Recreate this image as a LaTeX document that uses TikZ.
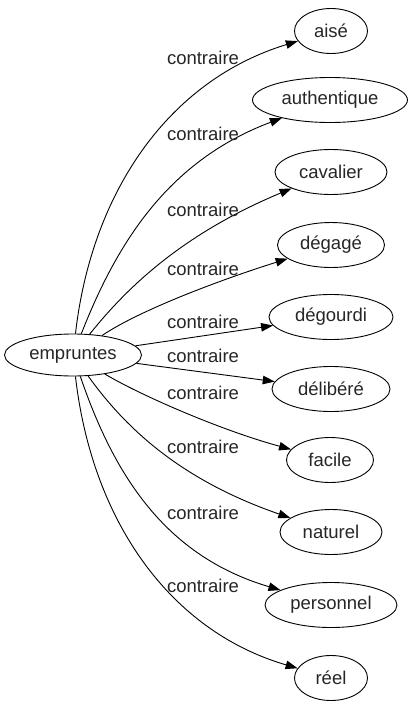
\documentclass[tikz,border=0pt]{standalone}
\usepackage{fontspec}
\setmainfont{Liberation Sans}
\usetikzlibrary{shapes.geometric,arrows.meta}
\tikzset{
  word/.style={ellipse, draw, line width=0.9pt, inner sep=0pt, minimum height=45pt, font=\fontsize{18.5}{20}\selectfont, text=black!85},
  rel/.style={font=\fontsize{18.5}{20}\selectfont, text=black!85, inner sep=0pt},
  link/.style={line width=0.9pt, -{Triangle[length=12pt,width=8.5pt]}}
}
\begin{document}
\begin{tikzpicture}[x=1pt,y=-1pt]
\useasboundingbox (0,0) rectangle (411,707);
\node[word, minimum width=137pt, minimum height=42pt] (e) at (73,355) {empruntes};
\node[word, minimum width=73pt] (aise) at (331,31) {aisé};
\node[word, minimum width=155pt] (auth) at (330,100) {authentique};
\node[word, minimum width=112pt] (cav) at (331,172) {cavalier};
\node[word, minimum width=107pt] (dega) at (331,245) {dégagé};
\node[word, minimum width=124pt] (degou) at (331,317) {dégourdi};
\node[word, minimum width=118pt] (deli) at (331,389) {délibéré};
\node[word, minimum width=87pt] (fac) at (330,460) {facile};
\node[word, minimum width=102pt] (nat) at (331,532) {naturel};
\node[word, minimum width=132pt] (pers) at (331,605) {personnel};
\node[word, minimum width=73pt] (reel) at (331,678) {réel};

\draw[link] (e) .. controls (92,190) and (170,80) .. (aise);
\draw[link] (e) .. controls (118,240) and (170,160) .. (auth);
\draw[link] (e) .. controls (125,290) and (180,235) .. (cav);
\draw[link] (e) .. controls (140,310) and (220,280) .. (dega);
\draw[link] (e) -- (degou);
\draw[link] (e) -- (deli);
\draw[link] (e) .. controls (140,395) and (220,430) .. (fac);
\draw[link] (e) .. controls (122,423) and (175,478) .. (nat);
\draw[link] (e) .. controls (114,475) and (165,556) .. (pers);
\draw[link] (e) .. controls (92,521) and (170,631) .. (reel);

\node[rel] (l1) at (203,58) {contraire};
\node[rel] (l2) at (203,134) {contraire};
\node[rel] (l3) at (203,210) {contraire};
\node[rel] (l4) at (203,269) {contraire};
\node[rel] (l5) at (203,322) {contraire};
\node[rel] (l6) at (203,356) {contraire};
\node[rel] (l7) at (203,393) {contraire};
\node[rel] (l8) at (203,447) {contraire};
\node[rel] (l9) at (203,513) {contraire};
\node[rel] (l10) at (203,586) {contraire};
\end{tikzpicture}
\end{document}
